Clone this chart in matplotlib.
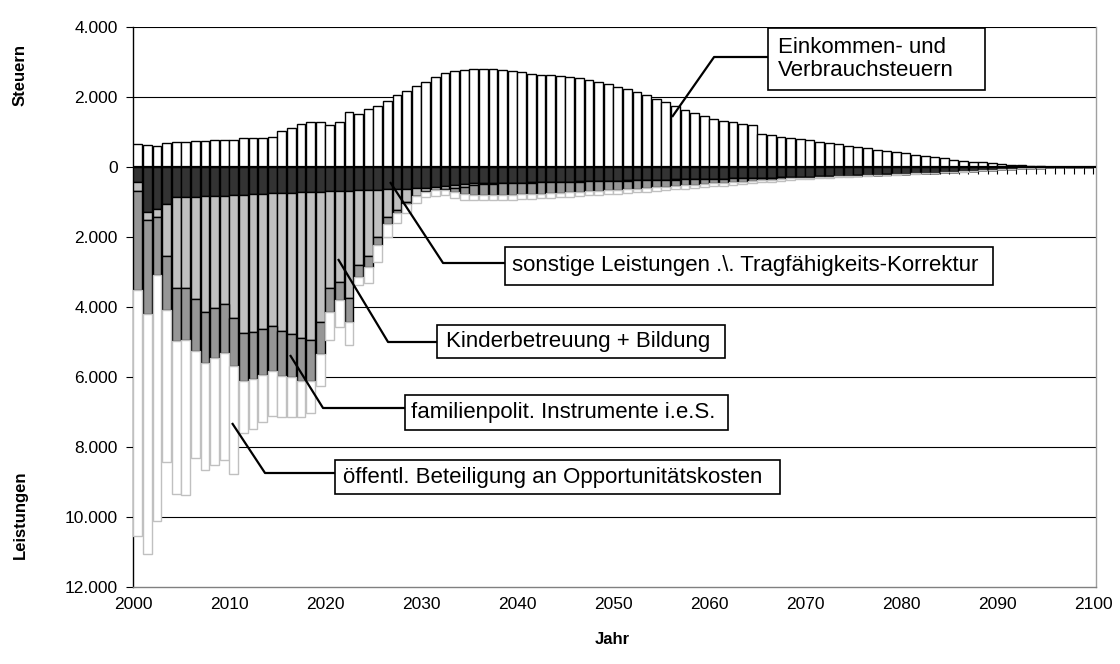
import matplotlib
matplotlib.use('Agg')
import matplotlib.pyplot as plt
from matplotlib.patches import Rectangle
from matplotlib.ticker import FuncFormatter, MultipleLocator
import numpy as np

plt.rcParams['font.family'] = ['Liberation Sans', 'DejaVu Sans']

years = list(range(2000, 2100))

# Einkommen- und Verbrauchsteuern (positive)
steuern = [660, 641, 607, 673, 703, 703, 732, 732, 760, 760,
           770, 830, 830, 840, 850, 1030, 1110, 1220, 1280, 1280,
           1200, 1295, 1580, 1514, 1648, 1752, 1876, 2048, 2171, 2305,
           2419, 2562, 2676, 2733, 2762, 2790, 2810, 2810, 2781, 2752,
           2714, 2667, 2638, 2619, 2590, 2562, 2533, 2486, 2419, 2362,
           2295, 2219, 2143, 2067, 1952, 1848, 1743, 1629, 1533, 1457,
           1381, 1324, 1286, 1238, 1190, 952, 905, 867, 835, 800,
           762, 724, 686, 648, 610, 571, 533, 495, 457, 429,
           390, 352, 324, 286, 248, 210, 181, 152, 133, 105,
           76, 57, 48, 29, 19, 10, 5, 3, 2, 1]

# Leistungen: cumulative depth (below zero) after each stacked series
sonstige_cum = [429, 1295, 1200, 1067, 857, 857, 848, 838, 829, 819,
                800, 790, 781, 762, 752, 743, 733, 724, 714, 705,
                695, 686, 676, 667, 657, 648, 638, 629, 619, 610,
                590, 570, 545, 520, 495, 470, 465, 460, 455, 450,
                443, 438, 433, 428, 422, 416, 411, 405, 400, 394,
                389, 383, 378, 372, 367, 362, 356, 351, 345, 340,
                335, 329, 324, 318, 313, 308, 302, 297, 291, 286,
                278, 270, 262, 254, 246, 238, 229, 220, 211, 202,
                192, 182, 171, 160, 148, 136, 123, 110, 96, 82,
                67, 53, 40, 28, 17, 9, 4, 2, 1, 0]
kinder_cum = [695, 1514, 1438, 2533, 3448, 3448, 3762, 4133, 4029, 3914,
              4314, 4743, 4724, 4619, 4533, 4676, 4762, 4876, 4933, 4419,
              3467, 3276, 3752, 2800, 2543, 1990, 1438, 1229, 990, 829,
              700, 670, 640, 600, 560, 500, 490, 480, 470, 462,
              455, 448, 442, 436, 430, 424, 418, 412, 406, 400,
              394, 388, 382, 376, 370, 365, 359, 354, 348, 342,
              337, 331, 326, 320, 314, 309, 303, 298, 292, 287,
              279, 271, 263, 255, 247, 238, 229, 220, 211, 202,
              192, 182, 171, 160, 148, 136, 123, 110, 96, 82,
              67, 53, 40, 28, 17, 9, 4, 2, 1, 0]
familien_cum = [3514, 4210, 3086, 4086, 4971, 4952, 5257, 5590, 5467, 5305,
                5686, 6114, 6057, 5943, 5829, 5981, 6000, 6105, 6114, 5352,
                4133, 3800, 4419, 3133, 2848, 2229, 1629, 1300, 1050, 829,
                700, 670, 650, 700, 760, 790, 800, 800, 795, 790,
                780, 770, 760, 748, 736, 722, 708, 694, 680, 665,
                650, 633, 616, 598, 580, 562, 545, 527, 508, 490,
                470, 452, 434, 416, 398, 380, 362, 345, 328, 312,
                300, 288, 277, 266, 256, 246, 236, 226, 216, 206,
                196, 185, 174, 163, 150, 138, 125, 112, 97, 83,
                68, 53, 40, 28, 17, 9, 4, 2, 1, 0]
opport_cum = [10543, 11067, 10114, 8438, 9352, 9371, 8314, 8657, 8514, 8381,
              8776, 7590, 7476, 7295, 7114, 7143, 7143, 7152, 7038, 6257,
              4943, 4562, 5086, 3371, 3300, 2705, 2010, 1610, 1324, 1038,
              850, 830, 810, 880, 930, 950, 950, 945, 940, 930,
              920, 905, 890, 875, 860, 845, 828, 812, 795, 778,
              760, 740, 720, 700, 680, 660, 640, 618, 596, 574,
              552, 530, 508, 486, 464, 440, 418, 396, 374, 352,
              335, 318, 302, 288, 275, 262, 250, 238, 227, 216,
              205, 193, 181, 169, 156, 143, 129, 115, 100, 85,
              70, 55, 41, 29, 18, 9, 4, 2, 1, 0]

W, H = 1120, 664
fig = plt.figure(figsize=(W / 100, H / 100), dpi=100)
L, R, T, B = 133, 1096, 27, 587
ax = fig.add_axes([L / W, 1 - B / H, (R - L) / W, (B - T) / H])

x = np.array(years) + 0.5
bw = 0.92

ax.bar(x, steuern, bw, color='white', edgecolor='black', linewidth=1.0, zorder=3)

series = [(sonstige_cum, '#333333', 'black'),
          (kinder_cum, '#c0c0c0', 'black'),
          (familien_cum, '#969696', 'black'),
          (opport_cum, '#ffffff', '#c0c0c0')]
prev = np.zeros(len(years))
for cum, fc, ec in series:
    cum = np.array(cum, dtype=float)
    seg = cum - prev
    ax.bar(x, -seg, bw, bottom=-prev, color=fc, edgecolor=ec, linewidth=1.0, zorder=3)
    prev = cum

ax.set_xlim(2000, 2100.3)
ax.set_ylim(-12000, 4000)

# gridlines
for v in [4000, 2000, -2000, -4000, -6000, -8000, -10000]:
    ax.axhline(v, color='black', linewidth=0.8, zorder=1)
ax.axhline(0, color='black', linewidth=1.6, zorder=5)
# category tick marks on the zero axis
ax.vlines(np.arange(2000, 2101), -200, 0, color='black', linewidth=0.8, zorder=2)

ax.yaxis.set_major_locator(MultipleLocator(2000))
ax.yaxis.set_major_formatter(FuncFormatter(lambda v, p: f"{abs(int(round(v))):,}".replace(',', '.')))
ax.set_xticks(range(2000, 2101, 10))
ax.tick_params(axis='x', length=0, pad=7, labelsize=12.5)
ax.tick_params(axis='y', length=5, width=0.8, direction='out', pad=6, labelsize=12.5)

ax.spines['top'].set_visible(False)
ax.spines['left'].set_color('black')
ax.spines['left'].set_linewidth(1.0)
ax.spines['bottom'].set_color('#808080')
ax.spines['bottom'].set_linewidth(1.0)
ax.spines['right'].set_color('#a0a0a0')
ax.spines['right'].set_linewidth(1.0)

fig.text(612 / W, 1 - 640 / H, 'Jahr', ha='center', va='center', fontsize=12, fontweight='bold')
fig.text(20 / W, 1 - 75 / H, 'Steuern', ha='center', va='center', rotation=90, fontsize=12, fontweight='bold')
fig.text(20 / W, 1 - 515 / H, 'Leistungen', ha='center', va='center', rotation=90, fontsize=12, fontweight='bold')


def px2d(px, py):
    return 2000 + (px - 133) / 9.6, (167 - py) * 1000 / 35


def note(text, box, pts, tx):
    x0, y0 = px2d(box[0], box[3])
    x1, y1 = px2d(box[2], box[1])
    ax.add_patch(Rectangle((x0, y0), x1 - x0, y1 - y0, facecolor='white',
                           edgecolor='black', linewidth=1.2, zorder=7, clip_on=False))
    txd, tyd = px2d(tx, (box[1] + box[3]) / 2)
    ax.text(txd, tyd, text, ha='left', va='center', fontsize=16, zorder=8,
            linespacing=1.15)
    xs, ys = zip(*[px2d(a, b) for a, b in pts])
    ax.plot(xs, ys, color='black', linewidth=1.6, zorder=6, solid_capstyle='butt', clip_on=False)


note('Einkommen- und\nVerbrauchsteuern', (768, 28, 985, 90),
     [(672, 117), (714, 57), (768, 57)], 778)
note('sonstige Leistungen .\\. Tragfähigkeits-Korrektur', (505, 247, 993, 285),
     [(390, 182), (443, 263), (505, 263)], 512)
note('Kinderbetreuung + Bildung', (437, 325, 725, 358),
     [(338, 259), (388, 342), (437, 342)], 446)
note('familienpolit. Instrumente i.e.S.', (405, 395, 728, 430),
     [(290, 355), (323, 408), (405, 408)], 411)
note('öffentl. Beteiligung an Opportunitätskosten', (335, 460, 780, 494),
     [(232, 423), (265, 473), (335, 473)], 343)

fig.savefig('out.png', dpi=100)
